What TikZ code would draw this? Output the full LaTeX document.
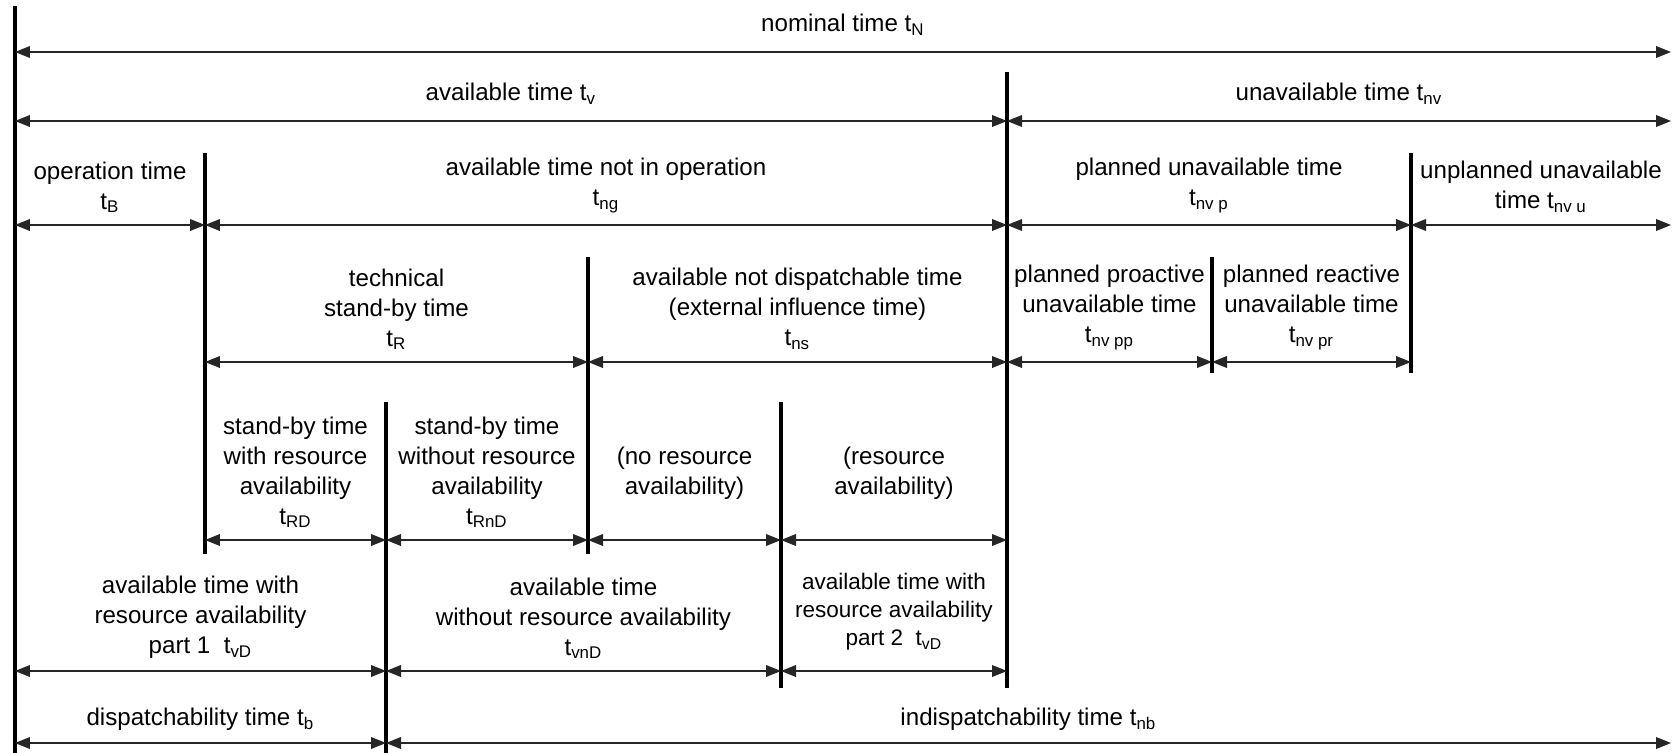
\documentclass[tikz,border=0pt]{standalone}
\usepackage{fontspec}
\setmainfont{Liberation Sans}
\usetikzlibrary{arrows.meta}

\begin{document}
\begin{tikzpicture}[x=0.015cm, y=-0.015cm,
    every node/.style={align=center, inner sep=0pt, font=\fontsize{10.3}{12.8}\selectfont},
    bar/.style={line width=1.4pt},
    dim/.style={{Triangle[length=6.4pt,width=5pt]}-{Triangle[length=6.4pt,width=5pt]}, line width=0.6pt, draw=black!85},
    lbl/.style={midway, above=#1}, lbl/.default=5pt]
    \useasboundingbox (0,0) rectangle (1672,753);
    % limits of the time spans
    \coordinate (x0) at (15,0);
    \coordinate (x1) at (205,0);
    \coordinate (x2) at (386,0);
    \coordinate (x3) at (588,0);
    \coordinate (x4) at (781,0);
    \coordinate (x5) at (1007,0);
    \coordinate (x6) at (1212,0);
    \coordinate (x7) at (1411,0);
    \coordinate (x8) at (1671,0);
    % rows of arrows
    \coordinate (r1) at (0,52);
    \coordinate (r2) at (0,121);
    \coordinate (r3) at (0,225);
    \coordinate (r4) at (0,362);
    \coordinate (r5) at (0,540);
    \coordinate (r6) at (0,671);
    \coordinate (r7) at (0,743);

    % vertical bars
    \draw[bar] (x0|-0,6) -- (x0|-0,753);
    \draw[bar] (x1|-0,153) -- (x1|-0,554);
    \draw[bar] (x2|-0,402) -- (x2|-0,753);
    \draw[bar] (x3|-0,257) -- (x3|-0,554);
    \draw[bar] (x4|-0,402) -- (x4|-0,688);
    \draw[bar] (x5|-0,72) -- (x5|-0,688);
    \draw[bar] (x6|-0,257) -- (x6|-0,373);
    \draw[bar] (x7|-0,153) -- (x7|-0,373);

    % row 1
    \draw[dim] (x0|-r1) -- node[lbl=6.8pt] (tN) {nominal time t\textsubscript{N}} (x8|-r1);
    % row 2
    \draw[dim] (x0|-r2) -- node[lbl=6.8pt] (tv) {available time t\textsubscript{v}} (x5|-r2);
    \draw[dim] (x5|-r2) -- node[lbl=6.8pt] (tnv) {unavailable time t\textsubscript{nv}} (x8|-r2);
    % row 3
    \draw[dim] (x0|-r3) -- node[lbl] (tB) {operation time\\t\textsubscript{B}} (x1|-r3);
    \draw[dim] (x1|-r3) -- node[lbl] (tng) {available time not in operation\\t\textsubscript{ng}} (x5|-r3);
    \draw[dim] (x5|-r3) -- node[lbl] (tnvp) {planned unavailable time\\t\textsubscript{nv p}} (x7|-r3);
    \draw[dim] (x7|-r3) -- node[lbl] (tnvu) {unplanned unavailable\\time t\textsubscript{nv u}} (x8|-r3);
    % row 4
    \draw[dim] (x1|-r4) -- node[lbl] (tR) {technical\\stand-by time\\t\textsubscript{R}} (x3|-r4);
    \draw[dim] (x3|-r4) -- node[lbl] (tns) {available not dispatchable time\\(external influence time)\\t\textsubscript{ns}} (x5|-r4);
    \draw[dim] (x5|-r4) -- node[lbl] (tnvpp) {planned proactive\\unavailable time\\t\textsubscript{nv pp}} (x6|-r4);
    \draw[dim] (x6|-r4) -- node[lbl] (tnvpr) {planned reactive\\unavailable time\\t\textsubscript{nv pr}} (x7|-r4);
    % row 5
    \draw[dim] (x1|-r5) -- node[lbl] (tRD) {stand-by time\\with resource\\availability\\t\textsubscript{RD}} (x2|-r5);
    \draw[dim] (x2|-r5) -- node[lbl] (tRnD) {stand-by time\\without resource\\availability\\t\textsubscript{RnD}} (x3|-r5);
    \draw[dim] (x3|-r5) -- node[lbl] (nores) {(no resource\\availability)\\\phantom{t\textsubscript{RD}}} (x4|-r5);
    \draw[dim] (x4|-r5) -- node[lbl] (res) {(resource\\availability)\\\phantom{t\textsubscript{RD}}} (x5|-r5);
    % row 6
    \draw[dim] (x0|-r6) -- node[lbl] (tvD1) {available time with\\resource availability\\part 1~~t\textsubscript{vD}} (x2|-r6);
    \draw[dim] (x2|-r6) -- node[lbl] (tvnD) {available time\\without resource availability\\t\textsubscript{vnD}} (x4|-r6);
    \draw[dim] (x4|-r6) -- node[lbl=8.5pt, font=\fontsize{9.6}{12}\selectfont] (tvD2) {available time with\\resource availability\\part 2~~t\textsubscript{vD}} (x5|-r6);
    % row 7
    \draw[dim] (x0|-r7) -- node[lbl] (tb) {dispatchability time t\textsubscript{b}} (x2|-r7);
    \draw[dim] (x2|-r7) -- node[lbl] (tnb) {indispatchability time t\textsubscript{nb}} (x8|-r7);
\end{tikzpicture}
\end{document}
